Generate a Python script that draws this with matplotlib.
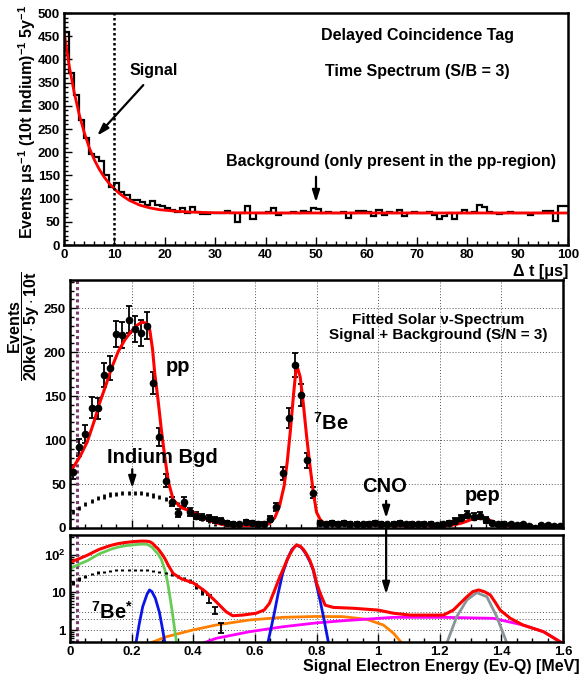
import matplotlib
matplotlib.use('Agg')
import matplotlib.pyplot as plt
from matplotlib.ticker import NullFormatter
import numpy as np

plt.rcParams['font.family'] = ['Liberation Sans', 'DejaVu Sans']
plt.rcParams['font.weight'] = 'bold'
plt.rcParams['mathtext.fontset'] = 'custom'
plt.rcParams['mathtext.rm'] = 'Liberation Sans:bold'
plt.rcParams['mathtext.bf'] = 'Liberation Sans:bold'
plt.rcParams['mathtext.it'] = 'Liberation Sans:bold:italic'
plt.rcParams['mathtext.default'] = 'rm'
plt.rcParams['axes.linewidth'] = 1.8

# ---- top panel: delayed coincidence time spectrum (1 us bins) ----
time_bin = 1.0
time_counts = [460, 370, 323, 270, 230, 197, 190, 180, 151, 126,
               133, 115, 108, 97, 98, 93, 86, 95, 86, 84,
               80, 76, 72, 79, 70, 82, 71, 66, 67, 70,
               69, 70, 74, 70, 50, 70, 84, 56, 68, 69,
               71, 79, 64, 70, 69, 71, 70, 73, 72, 80,
               78, 70, 71, 69, 70, 71, 59, 70, 74, 73,
               71, 62, 76, 65, 72, 70, 76, 62, 70, 71,
               69, 70, 71, 64, 55, 62, 69, 56, 68, 75,
               70, 71, 86, 81, 71, 70, 67, 70, 71, 68,
               70, 70, 65, 70, 69, 74, 74, 52, 84, 84]
time_fit_t = [0, 1, 2, 3, 4, 5, 6, 7, 8, 9, 10, 11, 12, 13, 14, 15, 16, 17, 18,
              19, 20, 22, 25, 30, 40, 100]
time_fit_y = [460, 388, 330, 282, 243, 210, 184, 163, 146, 132, 121, 111, 103,
              96, 91, 86, 83, 80, 78, 76, 75, 73, 71, 69.5, 69, 69]

# ---- middle / bottom panels: energy spectrum (20 keV bins) ----
e_bin = 0.02
spec_counts = [64, 92, 107, 137, 136, 174, 182, 221, 219, 237,
               226, 222, 230, 165, 104, 54, 30, 17, 30, 18,
               14, 12, 11, 9, 8, 6, 5, 4, 7, 6,
               5, 5, 10, 24, 62, 125, 185, 151, 77, 40,
               6, 5, 6, 5, 6, 5, 5, 4, 5, 6,
               5, 4, 5, 6, 4, 5, 4, 5, 5, 3,
               4, 6, 8, 11, 15, 13, 14, 9, 6, 4,
               5, 4, 3, 4, 2, 0.5, 3, 3, 2, 2]
indium_counts = [18, 23, 27, 31, 34, 36, 38, 39, 39.5, 40, 40, 39.5, 39,
                 37, 35, 33, 30, 27, 24, 20, 15, 11, 7, 3.4, 1.2]
indium_err = [2.5] * 22 + [1.6, 0.8, 0.35]

total_e = [0.005, 0.032, 0.056, 0.079, 0.095, 0.117, 0.135, 0.157, 0.178, 0.2,
           0.216, 0.232, 0.248, 0.259, 0.268, 0.275, 0.286, 0.297, 0.308, 0.319,
           0.335, 0.362, 0.4, 0.425, 0.44, 0.474, 0.506, 0.528, 0.56, 0.604,
           0.63, 0.647, 0.665, 0.68, 0.695, 0.705, 0.715, 0.725, 0.735, 0.747,
           0.757, 0.768, 0.779, 0.79, 0.8, 0.812, 0.828, 0.855, 0.92, 1.0,
           1.05, 1.104, 1.212, 1.244, 1.27, 1.288, 1.307, 1.326, 1.345, 1.364,
           1.38, 1.396, 1.429, 1.47, 1.537, 1.59]
total_y = [66, 81, 98, 122, 141, 163, 182, 201, 214, 224,
           230, 234, 233, 225, 203, 176, 145, 110, 80, 53,
           32, 23, 18, 13, 10.5, 5.7, 3.1, 2.4, 2.5, 2.8,
           3.4, 5.1, 12, 25, 48, 75, 110, 150, 186, 172,
           142, 104, 70, 40, 18, 9.5, 4.6, 4.0, 3.8, 3.4,
           2.8, 2.5, 2.5, 3.4, 5.5, 7.7, 10.5, 11.7, 10.5, 8.6,
           5.5, 3.4, 2.05, 1.36, 0.9, 0.49]

pp_e = [0.003, 0.032, 0.056, 0.079, 0.095, 0.117, 0.135, 0.157, 0.178, 0.2,
        0.216, 0.232, 0.248, 0.259, 0.268, 0.275, 0.286, 0.297, 0.308, 0.316,
        0.324, 0.332, 0.34, 0.346]
pp_y = [44, 58, 70, 90, 107, 126, 144, 162, 175, 184,
        190, 194, 194, 176, 156, 132, 106, 74, 40, 20,
        8, 3, 1, 0.45]

be7s_e = [0.214, 0.225, 0.236, 0.25, 0.258, 0.266, 0.277, 0.29, 0.3, 0.308]
be7s_y = [0.45, 1.5, 4.2, 9, 11.7, 10.5, 7, 3, 1.1, 0.45]

be7_e = [0.642, 0.663, 0.675, 0.69, 0.705, 0.72, 0.735, 0.75, 0.765, 0.779,
         0.79, 0.8, 0.812, 0.825, 0.839]
be7_y = [0.45, 2.8, 9, 32, 75, 140, 182, 160, 110, 65,
         38, 16, 6, 1.8, 0.45]

cno_e = [0.263, 0.312, 0.398, 0.474, 0.582, 0.69, 0.8, 0.887, 0.963, 1.017,
         1.05, 1.077]
cno_y = [0.46, 0.66, 1.0, 1.36, 1.85, 2.18, 2.3, 2.27, 1.93, 1.36,
         0.82, 0.45]

flat_e = [0.436, 0.474, 0.582, 0.69, 0.8, 0.887, 1.05, 1.21, 1.374, 1.47,
          1.537, 1.59]
flat_y = [0.46, 0.6, 0.9, 1.22, 1.55, 1.77, 2.18, 2.18, 2.05, 1.36,
          0.9, 0.49]

pep_e = [1.223, 1.255, 1.288, 1.32, 1.353, 1.385, 1.418]
pep_y = [0.45, 2.27, 6.3, 9.9, 7.7, 2.27, 0.45]

threshold = 0.022
x_labels = ['0', '0.2', '0.4', '0.6', '0.8', '1', '1.2', '1.4', '1.6']
log_ticks = [1, 10, 100]
log_labels = ['1', '10', r'$10^{2}$']
log_grid = [1, 2, 3, 10, 20, 30, 50, 100, 200]

spec_e = np.arange(len(spec_counts)) * e_bin + e_bin / 2
indium_e = spec_e[:len(indium_counts)]
time_edges = np.arange(len(time_counts) + 1) * time_bin

W, H = 585, 677
fig = plt.figure(figsize=(W / 100, H / 100), dpi=100)


def box(l, t, r, b):
    # pixel box -> figure fraction
    return [l / W, 1 - b / H, (r - l) / W, (b - t) / H]


def style(ax):
    ax.tick_params(which='both', direction='in', top=False, right=False,
                   labelsize=9.5, pad=3, width=1)
    ax.tick_params(which='major', length=6)
    ax.tick_params(which='minor', length=3)


grid_kw = dict(color='#555555', ls=(0, (1, 2)), lw=0.7)
arrow_kw = dict(arrowstyle='-|>,head_length=0.7,head_width=0.22', color='black', lw=1.6)

# ---------------- top ----------------
ax_t = fig.add_axes(box(64, 13, 568, 245))
ax_t.stairs(time_counts, time_edges, baseline=None, color='black', lw=1.6)
ax_t.plot(time_fit_t, time_fit_y, color='red', lw=2)
ax_t.axvline(10, color='black', ls=(0, (1, 1)), lw=1.8)
ax_t.set_xlim(0, 100)
ax_t.set_ylim(0, 500)
ax_t.set_xticks(np.arange(0, 101, 10))
ax_t.set_xticks(np.arange(0, 101, 2), minor=True)
ax_t.set_yticks(np.arange(0, 501, 50))
ax_t.set_yticks(np.arange(0, 501, 10), minor=True)
style(ax_t)
ax_t.text(70.2, 452, 'Delayed Coincidence Tag', ha='center', va='center', fontsize=11.5)
ax_t.text(70.2, 373, 'Time Spectrum (S/B = 3)', ha='center', va='center', fontsize=11.5)
ax_t.text(17.7, 375, 'Signal', ha='center', va='center', fontsize=11.5)
ax_t.annotate('', xy=(6.2, 231), xytext=(16.1, 349), arrowprops=arrow_kw)
ax_t.text(64.9, 179, 'Background (only present in the pp-region)',
          ha='center', va='center', fontsize=11.5)
ax_t.annotate('', xy=(50, 86), xytext=(50, 153), arrowprops=arrow_kw)
ax_t.text(1.0, -0.115, 'Δ t [μs]', transform=ax_t.transAxes, ha='right',
          va='center', fontsize=11.5)
fig.text(27 / W, 1 - 122 / H, 'Events μs$^{-1}$ (10t Indium)$^{-1}$ 5y$^{-1}$',
         rotation=90, ha='center', va='center', fontsize=11.5)

# ---------------- middle ----------------
ax_m = fig.add_axes(box(70, 280, 563, 528))
ax_m.set_axisbelow(True)
ax_m.grid(True, which='major', **grid_kw)
ax_m.axvline(threshold, color='#7d3c6e', ls=(0, (1, 1)), lw=2.2)
ax_m.errorbar(spec_e, spec_counts, yerr=np.sqrt(spec_counts), fmt='o', color='black',
              ms=4.5, elinewidth=1.3, capsize=2, capthick=1.3)
ax_m.errorbar(indium_e, indium_counts, yerr=indium_err, fmt='none', ecolor='black',
              elinewidth=2, capsize=0)
ax_m.plot(total_e, total_y, color='red', lw=2.2)
ax_m.set_xlim(0, 1.6)
ax_m.set_ylim(0, 282)
ax_m.set_xticks(np.arange(0, 1.61, 0.2))
ax_m.set_xticks(np.arange(0, 1.61, 0.05), minor=True)
ax_m.set_yticks(np.arange(0, 251, 50))
ax_m.set_yticks(np.arange(0, 281, 10), minor=True)
style(ax_m)
ax_m.tick_params(axis='x', labelbottom=False)
ax_m.text(1.195, 236, 'Fitted Solar ν-Spectrum', ha='center', va='center', fontsize=11)
ax_m.text(1.195, 219, 'Signal + Background (S/N = 3)', ha='center', va='center', fontsize=11)
ax_m.text(0.35, 184, 'pp', ha='center', va='center', fontsize=14.5)
ax_m.text(0.847, 119, '$^{7}$Be', ha='center', va='center', fontsize=14.5)
ax_m.text(0.30, 80, 'Indium Bgd', ha='center', va='center', fontsize=14.5)
ax_m.annotate('', xy=(0.202, 42), xytext=(0.202, 70), arrowprops=arrow_kw)
ax_m.text(1.02, 47, 'CNO', ha='center', va='center', fontsize=14.5)
ax_m.text(1.34, 37, 'pep', ha='center', va='center', fontsize=14.5)
ax_m.annotate('', xy=(1.026, 8), xytext=(1.026, 34), arrowprops=arrow_kw)
fig.text(24 / W, 1 - 326 / H, r'$\dfrac{Events}{20keV\cdot 5y\cdot 10t}$',
         rotation=90, ha='center', va='center', fontsize=11.5)

# ---------------- bottom (log) ----------------
ax_b = fig.add_axes(box(70, 535, 563, 642))
ax_b.set_yscale('log')
ax_b.set_axisbelow(True)
ax_b.grid(True, which='major', axis='x', **grid_kw)
for g in log_grid:
    ax_b.axhline(g, zorder=0, **grid_kw)
ax_b.axvline(threshold, color='#7d3c6e', ls=(0, (1, 1)), lw=2.2)
ax_b.plot(cno_e, cno_y, color='#ff8000', lw=2)
ax_b.plot(flat_e, flat_y, color='#ff00ff', lw=2)
ax_b.plot(pep_e, pep_y, color='#8a9396', lw=2)
ax_b.plot(pp_e, pp_y, color='#66cc55', lw=2)
ax_b.plot(be7s_e, be7s_y, color='#0a14e6', lw=2)
ax_b.plot(be7_e, be7_y, color='#0a14e6', lw=2)
ax_b.errorbar(indium_e[:22], indium_counts[:22], yerr=indium_err[:22], fmt='none',
              ecolor='black', elinewidth=2.2, capsize=0)
ax_b.errorbar(indium_e[22:], indium_counts[22:], yerr=indium_err[22:], fmt='none',
              ecolor='black', elinewidth=1.3, capsize=2, capthick=1.3)
ax_b.plot(total_e, total_y, color='red', lw=2.2)
ax_b.set_xlim(0, 1.6)
ax_b.set_ylim(0.48, 340)
ax_b.set_xticks(np.arange(0, 1.61, 0.2))
ax_b.set_xticklabels(x_labels)
ax_b.set_xticks(np.arange(0, 1.61, 0.05), minor=True)
ax_b.set_yticks(log_ticks)
ax_b.set_yticklabels(log_labels)
ax_b.yaxis.set_minor_formatter(NullFormatter())
style(ax_b)
ax_b.text(0.137, 3.0, '$^{7}$Be$^{*}$', ha='center', va='center', fontsize=14.5)
# CNO arrow running on down into the log panel
ax_b.annotate('', xy=(1.026, 7.6), xycoords='data', xytext=(1.026, 8),
              textcoords=ax_m.transData, arrowprops=arrow_kw)
fig.text(580 / W, 1 - 666 / H, 'Signal Electron Energy (Eν-Q) [MeV]',
         ha='right', va='center', fontsize=11.5)

fig.savefig('out.png', dpi=100)
